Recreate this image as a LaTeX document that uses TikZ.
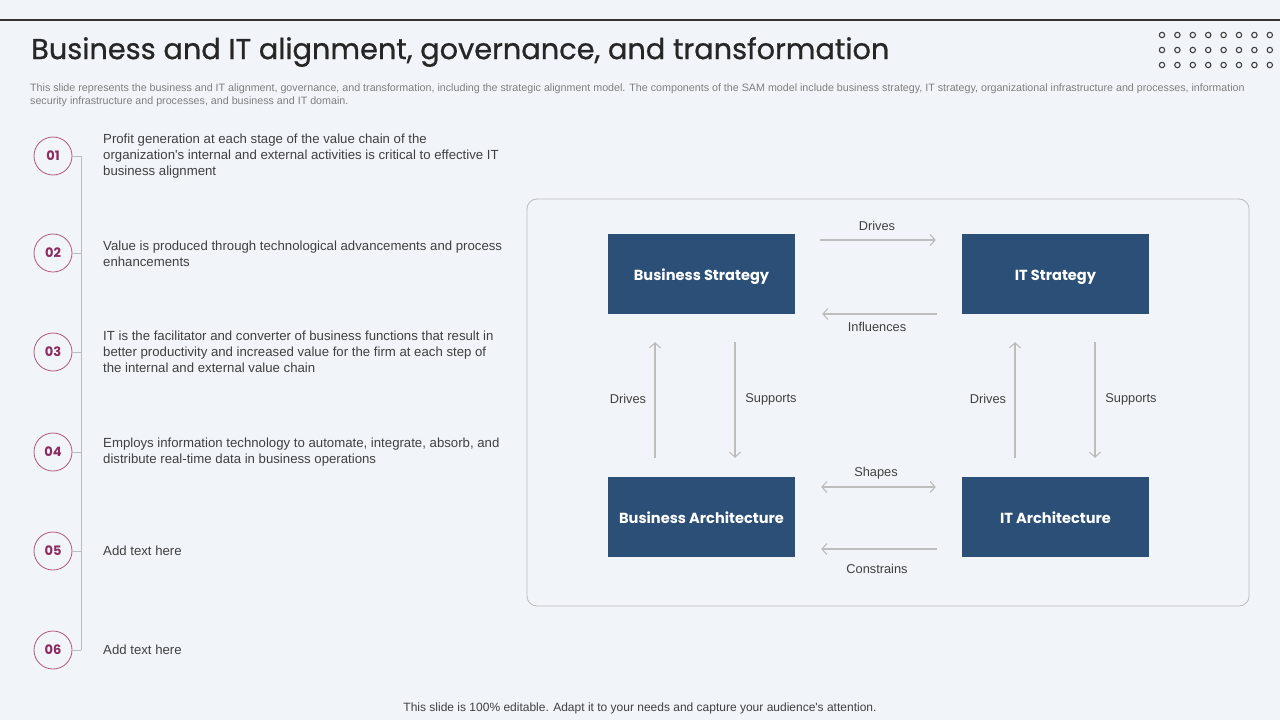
\documentclass[tikz,border=0pt]{standalone}
\usepackage{fontspec}
\setmainfont{Liberation Sans}
\newfontfamily\bodyfont{Liberation Sans}
\newfontfamily\headfont{Poppins}
\newfontfamily\titlefont[FakeBold=0.8]{Poppins}
\usepackage{tikz}
\usetikzlibrary{calc,arrows.meta}
\definecolor{slidebg}{HTML}{F1F4F9}
\definecolor{boxblue}{HTML}{2B4F76}
\definecolor{arrowgray}{HTML}{BDBDBD}
\definecolor{txtgray}{HTML}{404040}
\definecolor{subgray}{HTML}{7F7F7F}
\definecolor{numred}{HTML}{8B2B5E}
\definecolor{ringred}{HTML}{B0577F}
\tikzset{
	samblock/.style={fill=boxblue, minimum width=187pt, minimum height=80pt, inner sep=0pt, text height=15pt, text depth=2pt, text=white, font=\headfont\bfseries\fontsize{14.6}{17}\selectfont},
	numring/.style={circle, draw=ringred, line width=0.8pt, minimum size=38pt, inner sep=0pt, text=numred, font=\headfont\bfseries\fontsize{13}{15}\selectfont},
	itemtext/.style={anchor=west, align=left, inner sep=0pt, text=txtgray, font=\bodyfont\fontsize{13.2}{16}\selectfont},
	linklabel/.style={inner sep=0pt, text=txtgray, font=\bodyfont\fontsize{12.8}{15}\selectfont},
	samarrow/.style={draw=arrowgray, line width=1.1pt, -{Straight Barb[length=5pt,width=11pt]}}
}
\begin{document}
\begin{tikzpicture}[x=1pt, y=-1pt]
			%%%%% START %%%%%
			
			\useasboundingbox (0, 0) rectangle (1280, 720);
			\fill[slidebg] (0, 0) rectangle (1280, 720);
			
			\draw[line width=1.2pt, color=txtgray!80!black] (0, 20) -- (1280, 20);
			\node[anchor=west, inner sep=0pt, text=black!85, font=\titlefont\fontsize{28.8}{32}\selectfont] (title) at (31, 52) {Business and IT alignment, governance, and transformation};
			\foreach \row in {35, 50, 65}
				\foreach \col in {0, ..., 7}
					\draw[line width=1.1pt, color=txtgray] (1162 + 15.4*\col, \row) circle (2.7);
			
			\node[anchor=north west, align=left, inner sep=0pt, text=subgray, font=\bodyfont\fontsize{10.7}{12.5}\selectfont] (subtitle) at (30, 84) {This slide represents the business and IT alignment, governance, and transformation, including the strategic alignment model. The components of the SAM model include business strategy, IT strategy, organizational infrastructure and processes, information\\security infrastructure and processes, and business and IT domain.};
			
			%%%%% LEFT LIST %%%%%
			\draw[line width=0.8pt, color=arrowgray] (81, 156) -- (81, 650);
			
			\node[numring] (n1) at (53, 156) {01};
			\node[numring] (n2) at (53, 253) {02};
			\node[numring] (n3) at (53, 352) {03};
			\node[numring] (n4) at (53, 452) {04};
			\node[numring] (n5) at (53, 551) {05};
			\node[numring] (n6) at (53, 650) {06};
			\foreach \n in {n1, n2, n3, n4, n5, n6}
				\draw[line width=0.8pt, color=arrowgray] (\n.east) -- ++(9, 0);
			
			\node[itemtext] (t1) at (103, 156) {Profit generation at each stage of the value chain of the\\organization's internal and external activities is critical to effective IT\\business alignment};
			\node[itemtext] (t2) at (103, 254) {Value is produced through technological advancements and process\\enhancements};
			\node[itemtext] (t3) at (103, 352) {IT is the facilitator and converter of business functions that result in\\better productivity and increased value for the firm at each step of\\the internal and external value chain};
			\node[itemtext] (t4) at (103, 452) {Employs information technology to automate, integrate, absorb, and\\distribute real-time data in business operations};
			\node[itemtext] (t5) at (103, 551) {Add text here};
			\node[itemtext] (t6) at (103, 650) {Add text here};
			
			%%%%% SAM MODEL %%%%%
			\draw[line width=0.8pt, color=arrowgray, rounded corners=10pt] (527, 199) rectangle (1249, 606);
			
			\node[samblock] (bstrat) at (701.5, 274) {Business Strategy};
			\node[samblock] (itstrat) at (1055.5, 274) {IT Strategy};
			\node[samblock] (barch) at (701.5, 517) {Business Architecture};
			\node[samblock] (itarch) at (1055.5, 517) {IT Architecture};
			
			\draw[samarrow] ($(bstrat.east)+(25, -34)$) -- ($(itstrat.west)+(-26, -34)$);
			\draw[samarrow] ($(itstrat.west)+(-25, 40)$) -- ($(bstrat.east)+(27, 40)$);
			\node[linklabel] (l1) at (877, 226) {Drives};
			\node[linklabel] (l2) at (877, 327) {Influences};
			
			\draw[samarrow] ($(barch.north)+(-46.5, -19)$) -- ($(bstrat.south)+(-46.5, 28)$);
			\draw[samarrow] ($(bstrat.south)+(33.5, 28)$) -- ($(barch.north)+(33.5, -19)$);
			\node[linklabel] (l3) at (628, 399) {Drives};
			\node[linklabel] (l4) at (771, 399) {Supports};
			
			\draw[samarrow] ($(itarch.north)+(-40.5, -19)$) -- ($(itstrat.south)+(-40.5, 28)$);
			\draw[samarrow] ($(itstrat.south)+(39.5, 28)$) -- ($(itarch.north)+(39.5, -19)$);
			\node[linklabel] (l5) at (988, 399) {Drives};
			\node[linklabel] (l6) at (1131, 399) {Supports};
			
			\draw[samarrow, {Straight Barb[length=5pt,width=11pt]}-{Straight Barb[length=5pt,width=11pt]}] ($(barch.east)+(26, -30)$) -- ($(itarch.west)+(-26, -30)$);
			\draw[samarrow] ($(itarch.west)+(-25, 32)$) -- ($(barch.east)+(26, 32)$);
			\node[linklabel] (l7) at (876, 473) {Shapes};
			\node[linklabel] (l8) at (877, 569) {Constrains};
			
			\node[text=txtgray, inner sep=0pt, font=\bodyfont\fontsize{12}{14}\selectfont] (footer) at (640, 708) {This slide is 100\% editable. Adapt it to your needs and capture your audience's attention.};
			
			%%%%% END %%%%%
\end{tikzpicture}
\end{document}
